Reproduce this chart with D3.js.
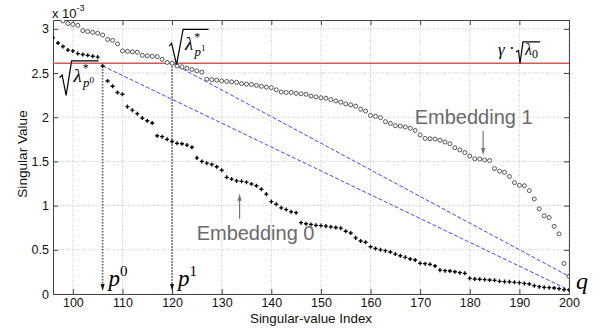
<!DOCTYPE html>
<html>
<head>
<meta charset="utf-8">
<script src="https://cdn.jsdelivr.net/npm/d3@7"></script>
<style>
  body { margin: 0; background: #fff; }
  svg { display: block; }
</style>
</head>
<body>
<div id="root"></div>
<script>
// Singular values (x 1e-3). Index of first value given separately.
const emb0Start = 96;
const emb0 = [
  2.90, 2.84, 2.80, 2.76, 2.75, 2.72, 2.71, 2.70, 2.69, 2.68,   // 96-105
  2.58, 2.41, 2.35, 2.28, 2.26, 2.12, 2.08, 2.04, 1.99, 1.96,   // 106-115
  1.935, 1.79, 1.78, 1.75, 1.725, 1.705, 1.70, 1.685, 1.66, 1.54, // 116-125
  1.50, 1.48, 1.465, 1.44, 1.40, 1.32, 1.30, 1.28, 1.275, 1.265, // 126-135
  1.245, 1.225, 1.185, 1.13, 1.045, 1.015, 0.975, 0.955, 0.93, 0.92, // 136-145
  0.807, 0.795, 0.787, 0.777, 0.774, 0.768, 0.76, 0.752, 0.745, 0.71, // 146-155
  0.69, 0.635, 0.60, 0.585, 0.535, 0.515, 0.50, 0.49, 0.475, 0.452, // 156-165
  0.433, 0.415, 0.396, 0.385, 0.347, 0.343, 0.336, 0.317, 0.27, 0.264, // 166-175
  0.26, 0.252, 0.241, 0.234, 0.177, 0.17, 0.167, 0.163, 0.158, 0.155, // 176-185
  0.143, 0.14, 0.138, 0.132, 0.128, 0.12, 0.113, 0.094, 0.083, 0.075, // 186-195
  0.072, 0.068, 0.06, 0.049, 0.045                                  // 196-200
];

const emb1Start = 98;
const emb1 = [
  3.09, 3.06, 3.05, 3.04, 2.98, 2.97, 2.96, 2.95, 2.93, 2.88,   // 98-107
  2.87, 2.83, 2.75, 2.745, 2.74, 2.735, 2.70, 2.695, 2.69, 2.685, // 108-117
  2.655, 2.62, 2.61, 2.58, 2.57, 2.555, 2.54, 2.525, 2.51, 2.43, // 118-127
  2.425, 2.42, 2.41, 2.405, 2.40, 2.395, 2.38, 2.375, 2.37, 2.36, // 128-137
  2.35, 2.34, 2.335, 2.31, 2.285, 2.28, 2.28, 2.27, 2.265, 2.26, // 138-147
  2.24, 2.23, 2.22, 2.215, 2.20, 2.185, 2.17, 2.15, 2.14, 2.125, // 148-157
  2.09, 2.07, 2.02, 2.01, 1.995, 1.95, 1.93, 1.905, 1.90, 1.89, // 158-167
  1.875, 1.85, 1.80, 1.76, 1.757, 1.753, 1.74, 1.72, 1.70, 1.655, // 168-177
  1.63, 1.60, 1.56, 1.53, 1.527, 1.516, 1.51, 1.42, 1.39, 1.377, // 178-187
  1.33, 1.26, 1.23, 1.225, 1.17, 1.075, 0.963, 0.885, 0.865, 0.765, // 188-197
  0.68, 0.345, 0.20                                               // 198-200
];

const xTicks = [100, 110, 120, 130, 140, 150, 160, 170, 180, 190, 200];
const yTicks = [0, 0.5, 1, 1.5, 2, 2.5, 3];
const yTickLabels = ["0", "0.5", "1", "1.5", "2", "2.5", "3"];

const gammaLevel = 2.61;   // gamma * sqrt(lambda_0)
const p0 = 106;            // knee of embedding 0
const p1 = 120;            // knee of embedding 1
const q = 200;

const emb0Pts = emb0.map((v, i) => ({ i: emb0Start + i, v }));
const emb1Pts = emb1.map((v, i) => ({ i: emb1Start + i, v }));
const val0 = i => emb0[i - emb0Start];
const val1 = i => emb1[i - emb1Start];

// ---------------------------------------------------------------
const width = 600, height = 332;
const margin = { top: 20, right: 31, bottom: 38, left: 53 };
const iw = width - margin.left - margin.right;
const ih = height - margin.top - margin.bottom;

const svg = d3.select("#root").append("svg")
  .attr("width", width)
  .attr("height", height)
  .attr("viewBox", `0 0 ${width} ${height}`)
  .style("font-family", "'Liberation Sans', Arial, sans-serif");

const defs = svg.append("defs");
defs.append("clipPath").attr("id", "clip")
  .append("rect").attr("width", iw).attr("height", ih);

const g = svg.append("g").attr("transform", `translate(${margin.left},${margin.top})`);

const x = d3.scaleLinear().domain([96, 200]).range([0, iw]);
const y = d3.scaleLinear().domain([0, 3.1]).range([ih, 0]);

// grid
g.append("g").selectAll("line").data(xTicks).join("line")
  .attr("x1", d => x(d)).attr("x2", d => x(d))
  .attr("y1", 0).attr("y2", ih)
  .attr("stroke", "#c8c8c8").attr("stroke-dasharray", "1,1.5");
g.append("g").selectAll("line").data(yTicks).join("line")
  .attr("x1", 0).attr("x2", iw)
  .attr("y1", d => y(d)).attr("y2", d => y(d))
  .attr("stroke", "#c8c8c8").attr("stroke-dasharray", "1,1.5");

// axes (MATLAB style: inward ticks, box)
const axColor = "#444";
const xAxis = g.append("g").attr("transform", `translate(0,${ih})`)
  .call(d3.axisBottom(x).tickValues(xTicks).tickSizeInner(-5).tickSizeOuter(0).tickPadding(4));
const yAxis = g.append("g")
  .call(d3.axisLeft(y).tickValues(yTicks).tickFormat((d, k) => yTickLabels[k])
    .tickSizeInner(-5).tickSizeOuter(0).tickPadding(4));
const xTop = g.append("g")
  .call(d3.axisTop(x).tickValues(xTicks).tickSizeInner(-5).tickSizeOuter(0).tickFormat(""));
const yRight = g.append("g").attr("transform", `translate(${iw},0)`)
  .call(d3.axisRight(y).tickValues(yTicks).tickSizeInner(-5).tickSizeOuter(0).tickFormat(""));
[xAxis, yAxis, xTop, yRight].forEach(a => {
  a.selectAll("path").attr("stroke", axColor);
  a.selectAll("line").attr("stroke", axColor);
  a.selectAll("text").attr("fill", "#111").style("font-size", "12.5px")
    .style("font-family", "'Liberation Sans', Arial, sans-serif");
});

// exponent label
const expo = svg.append("text")
  .attr("x", margin.left - 1).attr("y", margin.top - 2)
  .style("font-size", "13px").attr("fill", "#111");
expo.append("tspan").text("x 10");
expo.append("tspan").attr("dy", -7).style("font-size", "9px").text("-3");

// axis titles
svg.append("text")
  .attr("x", margin.left + iw / 2).attr("y", height - 9.5)
  .attr("text-anchor", "middle").style("font-size", "13.4px").attr("fill", "#111")
  .text("Singular-value Index");
svg.append("text")
  .attr("transform", `translate(27,${margin.top + ih / 2 - 3}) rotate(-90)`)
  .attr("text-anchor", "middle").style("font-size", "13.6px").attr("fill", "#111")
  .text("Singular Value");

// threshold line
g.append("line")
  .attr("x1", 0).attr("x2", iw)
  .attr("y1", y(gammaLevel)).attr("y2", y(gammaLevel))
  .attr("stroke", "#ff4a4a").attr("stroke-width", 1.6);

// blue chords from knees to q
const chords = [[p0, val0(p0), q, val0(q)], [p1, val1(p1), q, val1(q)]];
g.append("g").selectAll("line").data(chords).join("line")
  .attr("x1", d => x(d[0])).attr("y1", d => y(d[1]))
  .attr("x2", d => x(d[2])).attr("y2", d => y(d[3]))
  .attr("stroke", "#4646ff").attr("stroke-width", 1).attr("stroke-dasharray", "4,2");

// vertical dotted drops with arrowheads
const drops = [[p0, val0(p0)], [p1, gammaLevel]];
const dropG = g.append("g");
drops.forEach(([i, v]) => {
  dropG.append("line")
    .attr("x1", x(i)).attr("x2", x(i))
    .attr("y1", y(v)).attr("y2", ih - 8)
    .attr("stroke", "#666").attr("stroke-width", 1.8).attr("stroke-dasharray", "1.5,1.5");
  dropG.append("path")
    .attr("d", `M${x(i) - 2},${ih - 10} L${x(i) + 2},${ih - 10} L${x(i)},${ih - 3}Z`)
    .attr("fill", "#111");
});

// series
const plot = g.append("g").attr("clip-path", "url(#clip)");
plot.append("g").selectAll("circle").data(emb1Pts).join("circle")
  .attr("cx", d => x(d.i)).attr("cy", d => y(d.v)).attr("r", 2)
  .attr("fill", "#fff").attr("stroke", "#555").attr("stroke-width", 1);
const cross = d3.symbol().type(d3.symbolCross).size(9);
plot.append("g").selectAll("path").data(emb0Pts).join("path")
  .attr("transform", d => `translate(${x(d.i)},${y(d.v)})`)
  .attr("d", cross).attr("fill", "#000");

// --- math annotations
const serif = "'Liberation Serif', 'Times New Roman', serif";

function radical(grp, bb, left, below, over) {
  const top = bb.y - 1.5;
  const bot = bb.y + bb.height + below;
  grp.append("path")
    .attr("d", `M${bb.x - left},${bb.y + bb.height * 0.55} L${bb.x - left + 2.5},${bb.y + bb.height * 0.45}` +
      ` L${bb.x - left * 0.5},${bot} L${bb.x - 1},${top} L${bb.x + bb.width + over},${top}`)
    .attr("fill", "none").attr("stroke", "#000").attr("stroke-width", 1.2)
    .attr("stroke-linejoin", "miter");
}

// lambda*_{p^k} as one text element
function lambdaStar(grp, tx, ty, sup, size) {
  const t = grp.append("text").attr("x", tx).attr("y", ty)
    .style("font-family", serif).style("font-style", "italic").style("font-size", size + "px");
  t.append("tspan").text("λ");
  t.append("tspan").attr("dy", -size * 0.5).attr("dx", 1).style("font-size", (size * 0.62) + "px")
    .style("font-style", "normal").text("*");
  t.append("tspan").attr("dy", size * 0.78).attr("dx", -size * 0.3).style("font-size", (size * 0.68) + "px")
    .text("p");
  t.append("tspan").attr("dy", -size * 0.25).style("font-style", "normal")
    .style("font-size", (size * 0.48) + "px").text(sup);
  return t.node().getBBox();
}

// sqrt(lambda*_{p^0})
const lab0 = g.append("g");
const bb0 = lambdaStar(lab0, x(p0) - 29, y(val0(p0)) + 16, "0", 19);
radical(lab0, bb0, 13, 5, 4);

// sqrt(lambda*_{p^1})
const lab1 = g.append("g");
const bb1 = lambdaStar(lab1, x(p1) + 13, y(gammaLevel) - 13, "1", 19);
radical(lab1, bb1, 15, 6, 3);

// gamma . sqrt(lambda_0)
const gl = g.append("g");
gl.append("text").attr("x", x(q) - 71).attr("y", y(gammaLevel) - 8)
  .style("font-family", serif).style("font-style", "italic").style("font-size", "17px").text("γ");
gl.append("text").attr("x", x(q) - 60).attr("y", y(gammaLevel) - 9)
  .style("font-family", serif).style("font-size", "17px").text("·");
const lg = gl.append("g");
const lt = lg.append("text").attr("x", x(q) - 44).attr("y", y(gammaLevel) - 8)
  .style("font-family", serif).style("font-style", "italic").style("font-size", "16px");
lt.append("tspan").text("λ");
lt.append("tspan").attr("dy", 3).style("font-style", "normal").style("font-size", "12px").text("0");
const lbb = lt.node().getBBox();
radical(lg, { x: lbb.x, y: lbb.y + 2, width: lbb.width, height: lbb.height - 4 }, 8, 4, 2);

// p^0, p^1, q
[[p0, "0"], [p1, "1"]].forEach(([i, s]) => {
  const t = g.append("text").attr("x", x(i) + 6).attr("y", ih - 8)
    .style("font-family", serif).style("font-style", "italic").style("font-size", "23px");
  t.append("tspan").text("p");
  t.append("tspan").attr("dy", -10).style("font-style", "normal").style("font-size", "15px").text(s);
});
g.append("text").attr("x", x(q) + 7).attr("y", ih - 5)
  .style("font-family", serif).style("font-style", "italic").style("font-size", "24px").text("q");

// Embedding labels with arrows
const labelGray = "#6a6a6a";
function arrow(x0, yFrom, yTo) {
  const dir = yTo > yFrom ? 1 : -1;
  g.append("line").attr("x1", x0).attr("x2", x0).attr("y1", yFrom).attr("y2", yTo - dir * 6)
    .attr("stroke", "#777").attr("stroke-width", 1.2);
  g.append("path")
    .attr("d", `M${x0 - 2.2},${yTo - dir * 7} L${x0 + 2.2},${yTo - dir * 7} L${x0},${yTo}Z`)
    .attr("fill", "#777");
}
const e1 = [183, val1(183)];
g.append("text").attr("x", x(e1[0]) - 11).attr("y", y(e1[1]) - 36)
  .attr("text-anchor", "middle").style("font-size", "20px").attr("fill", labelGray).text("Embedding 1");
arrow(x(e1[0]) - 1.5, y(e1[1]) - 29, y(e1[1]) - 5);

const e0 = [133, val0(133)];
g.append("text").attr("x", x(e0[0]) + 19).attr("y", y(e0[1]) + 59)
  .attr("text-anchor", "middle").style("font-size", "20px").attr("fill", labelGray).text("Embedding 0");
arrow(x(e0[0]) + 3, y(e0[1]) + 38, y(e0[1]) + 13);
</script>
</body>
</html>
